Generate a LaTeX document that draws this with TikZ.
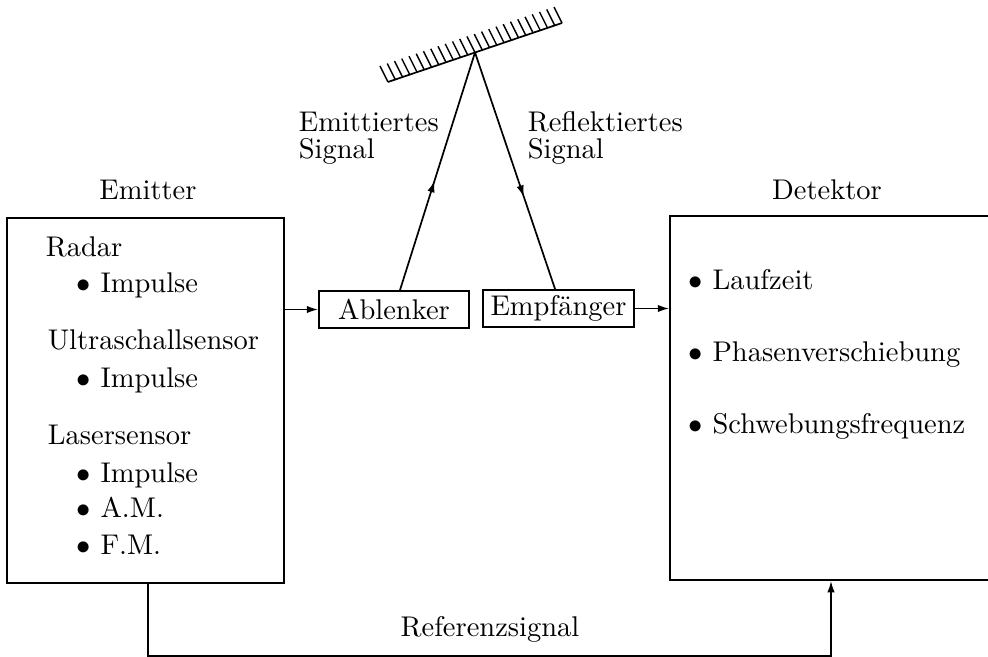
\documentclass[tikz,border=0pt]{standalone}
\usepackage{fontspec}
\usetikzlibrary{arrows.meta,decorations.markings}
\begin{document}
\begin{tikzpicture}[x=0.351pt,y=-0.351pt,
  line width=0.6pt,
  tip/.style={-{Latex[length=4pt,width=2.6pt]}},
  box/.style={draw,inner sep=0pt,minimum height=13pt},
  bigbox/.style={draw,inner sep=0pt},
  lab/.style={inner sep=0pt,anchor=base west},
  title/.style={inner sep=0pt,anchor=base},
  midarrow/.style={postaction={decorate},decoration={markings,mark=at position #1 with {\arrow{Latex[length=4pt,width=2.6pt]}}}}]
\useasboundingbox (0,0) rectangle (988,657);
% boxes
\node[bigbox,minimum width=97.2pt,minimum height=128.1pt] (E) at (145.5,400.5) {};
\node[bigbox,minimum width=113pt,minimum height=127.8pt] (D) at (831,398) {};
\node[box,minimum width=52.65pt] (A) at (394,309.5) {Ablenker};
\node[box,minimum width=53pt] (F) at (558.5,308.5) {Empfänger};
% titles
\node[title] (Et) at (148,200) {Emitter};
\node[title] (Dt) at (827,200) {Detektor};
% emitter contents
\node[lab] (e1) at (45,257) {Radar};
\node[lab] (e2) at (76,293) {$\bullet$ Impulse};
\node[lab] (e3) at (47,350) {Ultraschallsensor};
\node[lab] (e4) at (76,388) {$\bullet$ Impulse};
\node[lab] (e5) at (47,445) {Lasersensor};
\node[lab] (e6) at (76,483) {$\bullet$ Impulse};
\node[lab] (e7) at (76,518) {$\bullet$ A.M.};
\node[lab] (e8) at (76,555) {$\bullet$ F.M.};
% detector contents
\node[lab] (d1) at (688,290) {$\bullet$ Laufzeit};
\node[lab] (d2) at (688,362) {$\bullet$ Phasenverschiebung};
\node[lab] (d3) at (688,434) {$\bullet$ Schwebungsfrequenz};
% signal labels
\node[lab] (s1) at (298,132) {Emittiertes};
\node[lab] (s2) at (298,159) {Signal};
\node[lab] (s3) at (527,132) {Reflektiertes};
\node[lab] (s4) at (527,159) {Signal};
\node[title] (ref) at (490,637) {Referenzsignal};
% mirror
\coordinate (M1) at (388,82);
\coordinate (M2) at (562,23);
\coordinate (R) at (475,52.5);
\draw (M1) -- (M2);
\foreach \i in {0,...,24}
  \draw[line width=0.5pt] ({388+7.25*\i},{82-2.458*\i}) -- ++(-8,-16);
% connectors
\draw[tip] (E.east |- A.west) -- (A.west);
\draw[midarrow=0.46] ([xshift=2.1pt]A.north) -- (R);
\draw[midarrow=0.61] (R) -- ([xshift=-1.2pt]F.north);
\draw[tip] (F.east) -- (F.east -| D.west);
\draw[tip] ([xshift=1pt]E.south) -- ++(0,72) -| (D.south);
\end{tikzpicture}
\end{document}
